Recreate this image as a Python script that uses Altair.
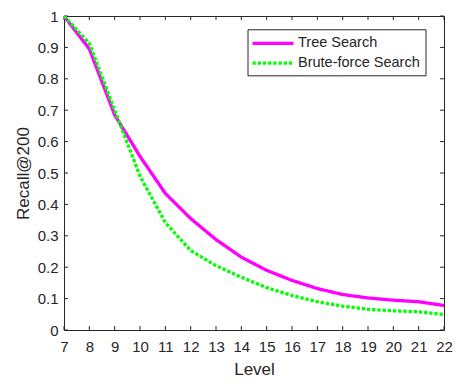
import altair as alt
import pandas as pd

# ---- data ----
levels = list(range(7, 23))
tree_search = [1.0, 0.895, 0.685, 0.553, 0.435, 0.355, 0.288, 0.232, 0.19, 0.158,
               0.132, 0.113, 0.102, 0.095, 0.09, 0.078]
brute_force = [1.0, 0.913, 0.70, 0.49, 0.342, 0.253, 0.205, 0.168, 0.135, 0.11,
               0.09, 0.076, 0.066, 0.061, 0.058, 0.049]
series_names = ["Tree Search", "Brute-force Search"]
series_colors = ["#FF00FF", "#00FF00"]
x_tick_values = list(range(7, 23))
y_tick_values = [0, 0.1, 0.2, 0.3, 0.4, 0.5, 0.6, 0.7, 0.8, 0.9, 1.0]

df = pd.DataFrame({
    "Level": levels + levels,
    "Recall": tree_search + brute_force,
    "Method": [series_names[0]] * len(levels) + [series_names[1]] * len(levels),
})
xt = pd.DataFrame({"Level": x_tick_values})
yt = pd.DataFrame({"Recall": y_tick_values})

W, H = 380, 314
TXT = "#262626"
TL = 4  # inward tick length

x_scale = alt.Scale(domain=[7, 22], nice=False, zero=False)
y_scale = alt.Scale(domain=[0, 1], nice=False, zero=False)
x_axis = alt.Axis(values=x_tick_values, format="d", title="Level",
                  labelPadding=9, titlePadding=7, labelFlush=False, labelOverlap=False)
y_axis = alt.Axis(values=y_tick_values, format=".1~f", title="Recall@200",
                  labelPadding=6, titlePadding=5, labelFlush=False, labelOverlap=False)

X = alt.X("Level:Q", scale=x_scale, axis=x_axis)
Y = alt.Y("Recall:Q", scale=y_scale, axis=y_axis)

lines = alt.Chart(df).mark_line(strokeWidth=3.3, strokeCap="butt").encode(
    x=X,
    y=Y,
    color=alt.Color("Method:N",
                    scale=alt.Scale(domain=series_names, range=series_colors),
                    legend=alt.Legend(title=None)),
    strokeDash=alt.StrokeDash("Method:N",
                              scale=alt.Scale(domain=series_names, range=[[1, 0], [3.3, 1.9]]),
                              legend=alt.Legend(title=None)),
)

tick_style = dict(color=TXT, strokeWidth=1)
bottom_ticks = alt.Chart(xt).mark_rule(**tick_style).encode(
    x=X, y=alt.value(H - TL), y2=alt.value(H))
top_ticks = alt.Chart(xt).mark_rule(**tick_style).encode(
    x=X, y=alt.value(0), y2=alt.value(TL))
left_ticks = alt.Chart(yt).mark_rule(**tick_style).encode(
    y=Y, x=alt.value(0), x2=alt.value(TL))
right_ticks = alt.Chart(yt).mark_rule(**tick_style).encode(
    y=Y, x=alt.value(W - TL), x2=alt.value(W))

chart = alt.layer(bottom_ticks, top_ticks, left_ticks, right_ticks, lines).properties(
    width=W, height=H,
    autosize=alt.AutoSizeParams(type="none"),
    padding={"left": 56, "top": 8, "right": 17, "bottom": 57},
    background="white",
).configure_view(
    stroke=TXT, strokeWidth=1, fill="white"
).configure_axis(
    labelFont="Liberation Sans", titleFont="Liberation Sans",
    labelFontSize=15, titleFontSize=17, titleFontWeight="normal",
    labelColor=TXT, titleColor=TXT, ticks=False, domain=False, grid=False,
).configure_legend(
    orient="none", legendX=183.5, legendY=13.3,
    strokeColor=TXT, fillColor="white", cornerRadius=0, padding=5,
    labelFont="Liberation Sans", labelFontSize=14.5, labelColor=TXT,
    symbolType="M-2.93,0L2.93,0", symbolSize=196, symbolStrokeWidth=3.3,
    symbolOffset=11.5, labelOffset=16, rowPadding=3.8, labelLimit=300,
)

chart.save("out.html", embed_options={"renderer": "svg", "actions": False})
